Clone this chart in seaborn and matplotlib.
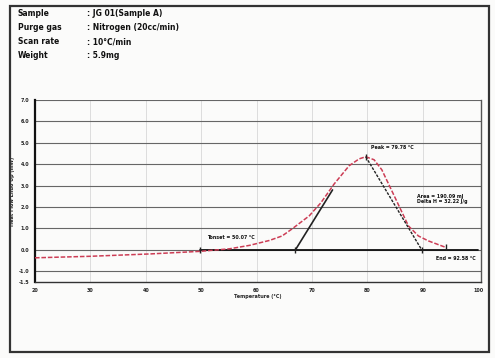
import matplotlib
matplotlib.use("Agg")
import matplotlib.pyplot as plt
import seaborn as sns
import pandas as pd
from matplotlib.patches import Rectangle

# DSC heat-flow trace (temperature in °C, heat flow in mW)
temperature = [20.0, 29.9, 40.7, 49.7, 55.1, 58.7, 62.3, 64.6, 66.4, 69.5, 71.6,
               74.0, 76.7, 78.5, 79.7, 81.2, 82.6, 85.1, 87.4, 89.2, 91.0, 94.1]
heat_flow = [-0.37, -0.30, -0.19, -0.07, 0.05, 0.21, 0.44, 0.65, 0.98, 1.59, 2.20,
             3.08, 3.93, 4.25, 4.35, 4.21, 3.74, 2.38, 1.12, 0.65, 0.42, 0.12]

# analysis constructions
baseline_x = [49.7, 100.0]
baseline_y = [0.0, 0.0]
onset_tangent_x = [67.0, 73.7]
onset_tangent_y = [0.0, 2.8]
end_tangent_x = [79.7, 89.8]
end_tangent_y = [4.35, 0.0]
marker_x = [49.7, 67.0, 79.7, 89.8, 94.1]
marker_y = [0.0, 0.0, 4.35, 0.0, 0.12]

x_ticks = [20, 30, 40, 50, 60, 70, 80, 90, 100]
y_ticks = [-1.5, -1, 0, 1, 2, 3, 4, 5, 6, 7]
y_tick_labels = ["-1.5", "-1.0", "0.0", "1.0", "2.0", "3.0", "4.0", "5.0", "6.0", "7.0"]

header_keys = ["Sample", "Purge gas", "Scan rate", "Weight"]
header_vals = [": JG 01(Sample A)", ": Nitrogen (20cc/min)", ": 10°C/min", ": 5.9mg"]

annotations = [
    (51.1, 0.56, "Tonset = 50.07 °C"),
    (80.6, 4.77, "Peak = 79.78 °C"),
    (88.9, 2.50, "Area = 190.09 mJ"),
    (88.9, 2.24, "Delta H = 32.22 J/g"),
    (92.3, -0.42, "End = 92.58 °C"),
]

sns.set_theme(style="white")
plt.rcParams["font.family"] = ["DejaVu Sans"]

fig = plt.figure(figsize=(4.95, 3.58), dpi=100)
fig.patch.set_facecolor("#fbfbfa")

# page frame
fig.patches.append(Rectangle((10 / 495, 6 / 358), 479 / 495, 346 / 358,
                             transform=fig.transFigure, fill=False,
                             edgecolor="#333333", lw=1.6))

# header block
for i, (k, v) in enumerate(zip(header_keys, header_vals)):
    yy = 1 - (14 + i * 14) / 358
    fig.text(18 / 495, yy, k, fontsize=5.5, fontweight="bold", va="center", color="#111111")
    fig.text(87 / 495, yy, v, fontsize=5.5, fontweight="bold", va="center", color="#111111")

ax = fig.add_axes([35 / 495, 76 / 358, 446 / 495, 182 / 358])
ax.set_facecolor("#fbfbfa")

df = pd.DataFrame({"Temperature": temperature, "HeatFlow": heat_flow})
sns.lineplot(data=df, x="Temperature", y="HeatFlow", ax=ax, color="#cc3d55",
             lw=1.1, linestyle=(0, (3, 1.2)), zorder=3)

ax.plot(baseline_x, baseline_y, color="#111111", lw=1.3, zorder=2)
ax.plot(onset_tangent_x, onset_tangent_y, color="#222222", lw=1.2, zorder=4)
ax.plot(end_tangent_x, end_tangent_y, color="#222222", lw=1.0,
        linestyle=(0, (2, 1)), zorder=4)
ax.scatter(marker_x, marker_y, marker="|", s=25, color="#222222", lw=1.0, zorder=5)

for x, y, t in annotations:
    ax.text(x, y, t, fontsize=3.4, fontweight="bold", color="#111111", va="center")

ax.set_xlim(20, 100.5)
ax.set_ylim(-1.5, 7.0)
ax.set_xticks(x_ticks)
ax.set_xticklabels([str(v) for v in x_ticks])
ax.set_yticks(y_ticks)
ax.set_yticklabels(y_tick_labels)
ax.tick_params(axis="both", labelsize=3.5, length=2, width=0.8, pad=2)
for lab in ax.get_xticklabels() + ax.get_yticklabels():
    lab.set_fontweight("bold")

for yv in y_ticks[1:]:
    ax.axhline(yv, color="#666666", lw=0.8, zorder=1)
for xv in x_ticks[1:-1]:
    ax.axvline(xv, color="#dddddd", lw=0.7, zorder=0)

ax.set_xlabel("Temperature (°C)", fontsize=3.5, fontweight="bold", labelpad=1)
ax.set_ylabel("Heat Flow Endo Up (mW)", fontsize=3.5, fontweight="bold", labelpad=3)

for side in ["top"]:
    ax.spines[side].set_visible(False)
ax.spines["left"].set_color("#111111")
ax.spines["left"].set_linewidth(1.6)
ax.spines["bottom"].set_color("#333333")
ax.spines["bottom"].set_linewidth(1.0)
ax.spines["right"].set_color("#555555")
ax.spines["right"].set_linewidth(1.0)

fig.savefig("out.png", dpi=100, facecolor=fig.get_facecolor())
